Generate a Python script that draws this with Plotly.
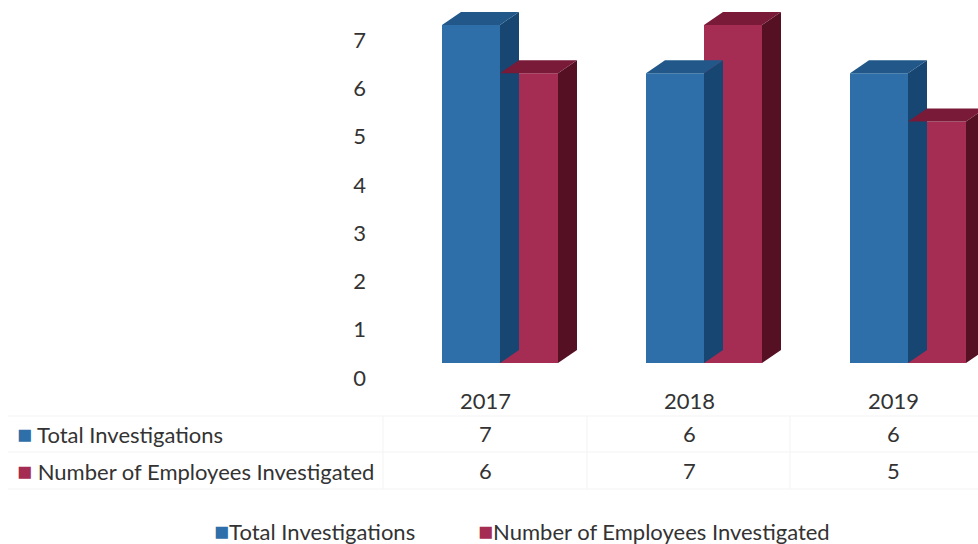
import plotly.graph_objects as go

# Chart data
years = ["2017", "2018", "2019"]
total_investigations = [7, 6, 6]
employees_investigated = [6, 7, 5]
series_names = ["Total Investigations", "Number of Employees Investigated"]
y_ticks = [0, 1, 2, 3, 4, 5, 6, 7]

# Face colours for the pseudo-3D columns: (front, top, side)
blue = ("#2f6fa9", "#215889", "#174672")
red = ("#a52c52", "#781a38", "#561023")
text_color = "#333333"
FONT = "Lato"
FS = 22

W, H = 978, 544
px_per_cat = 204.0          # horizontal pixels per category
px_per_unit = 48.3          # vertical pixels per value unit
x_zero_px = 500.0           # pixel of category 0 centre
y_zero_px = 363.0           # pixel of value 0 (front floor)

x_min = -x_zero_px / px_per_cat
x_max = x_min + W / px_per_cat
y_max = y_zero_px / px_per_unit
y_min = y_max - H / px_per_unit

bar_w = 58 / px_per_cat     # width of each column front
dx = 19 / px_per_cat        # depth offset (to the right)
dy = 13 / px_per_unit       # depth offset (upwards)

fig = go.Figure()


def add_column(i, v, offset, colors, name):
    front, top, side = colors
    x0 = i + offset
    x1 = x0 + bar_w
    # right-hand side face
    fig.add_trace(go.Scatter(
        x=[x1, x1 + dx, x1 + dx, x1, x1], y=[0, dy, v + dy, v, 0],
        fill="toself", fillcolor=side, mode="lines",
        line=dict(width=0, color=side), showlegend=False, hoverinfo="skip"))
    # top face
    fig.add_trace(go.Scatter(
        x=[x0, x0 + dx, x1 + dx, x1, x0], y=[v, v + dy, v + dy, v, v],
        fill="toself", fillcolor=top, mode="lines",
        line=dict(width=0, color=top), showlegend=False, hoverinfo="skip"))
    # front face
    fig.add_trace(go.Bar(
        x=[i], y=[v], width=bar_w, offset=offset, name=name, showlegend=False,
        marker=dict(color=front, line=dict(width=0))))


for i in range(len(years)):
    add_column(i, total_investigations[i], -bar_w, blue, series_names[0])
    add_column(i, employees_investigated[i], 0, red, series_names[1])

# value axis labels sit slightly below the front scale
shift = 15 / px_per_unit
fig.add_trace(go.Scatter(x=[None], y=[None], yaxis="y2", showlegend=False))


def py(px):
    return 1 - px / H


def key(color):
    return f"<span style='color:{color};font-size:25px'>■</span>"


# data table under the plot
annotations = []
col_shift = -15 / px_per_cat
row_y = [400, 433, 470]
for i, yr in enumerate(years):
    for ry, txt in zip(row_y, [yr, str(total_investigations[i]), str(employees_investigated[i])]):
        annotations.append(dict(x=i + col_shift, y=py(ry), xref="x", yref="paper",
                                yanchor="middle", text=txt, showarrow=False))
for name, col, ry in [(series_names[0], blue[0], row_y[1]), (series_names[1], red[0], row_y[2])]:
    annotations.append(dict(
        x=15 / W, y=py(ry), xref="paper", yref="paper", xanchor="left", yanchor="middle",
        text=key(col) + " " + name, showarrow=False))

# legend row at the bottom
for name, col, xp in [(series_names[0], blue[0], 212), (series_names[1], red[0], 476)]:
    annotations.append(dict(
        x=xp / W, y=py(530), xref="paper", yref="paper", xanchor="left", yanchor="middle",
        text=key(col) + name, showarrow=False))

# faint table rules
shapes = []
grid = "#f3f3f3"
for yy in [416, 452, 489]:
    shapes.append(dict(type="line", xref="paper", yref="paper",
                       x0=8 / W, x1=1, y0=py(yy), y1=py(yy),
                       line=dict(color=grid, width=1)))
for xx in [383, 587, 790]:
    shapes.append(dict(type="line", xref="paper", yref="paper",
                       x0=xx / W, x1=xx / W, y0=py(416), y1=py(489),
                       line=dict(color=grid, width=1)))

fig.update_layout(
    width=W, height=H,
    margin=dict(l=0, r=0, t=0, b=0, autoexpand=False),
    paper_bgcolor="white", plot_bgcolor="white",
    barmode="overlay",
    font=dict(family=FONT, size=FS, color=text_color),
    xaxis=dict(range=[x_min, x_max], visible=False, fixedrange=True),
    yaxis=dict(range=[y_min, y_max], visible=False, fixedrange=True),
    yaxis2=dict(range=[y_min + shift, y_max + shift], overlaying="y", anchor="free",
                position=366 / W, side="left", tickvals=y_ticks, showgrid=False,
                zeroline=False, showline=False, ticks="",
                tickfont=dict(family=FONT, size=FS, color=text_color)),
    annotations=annotations,
    shapes=shapes,
    showlegend=False,
)

fig.write_html("out.html")
